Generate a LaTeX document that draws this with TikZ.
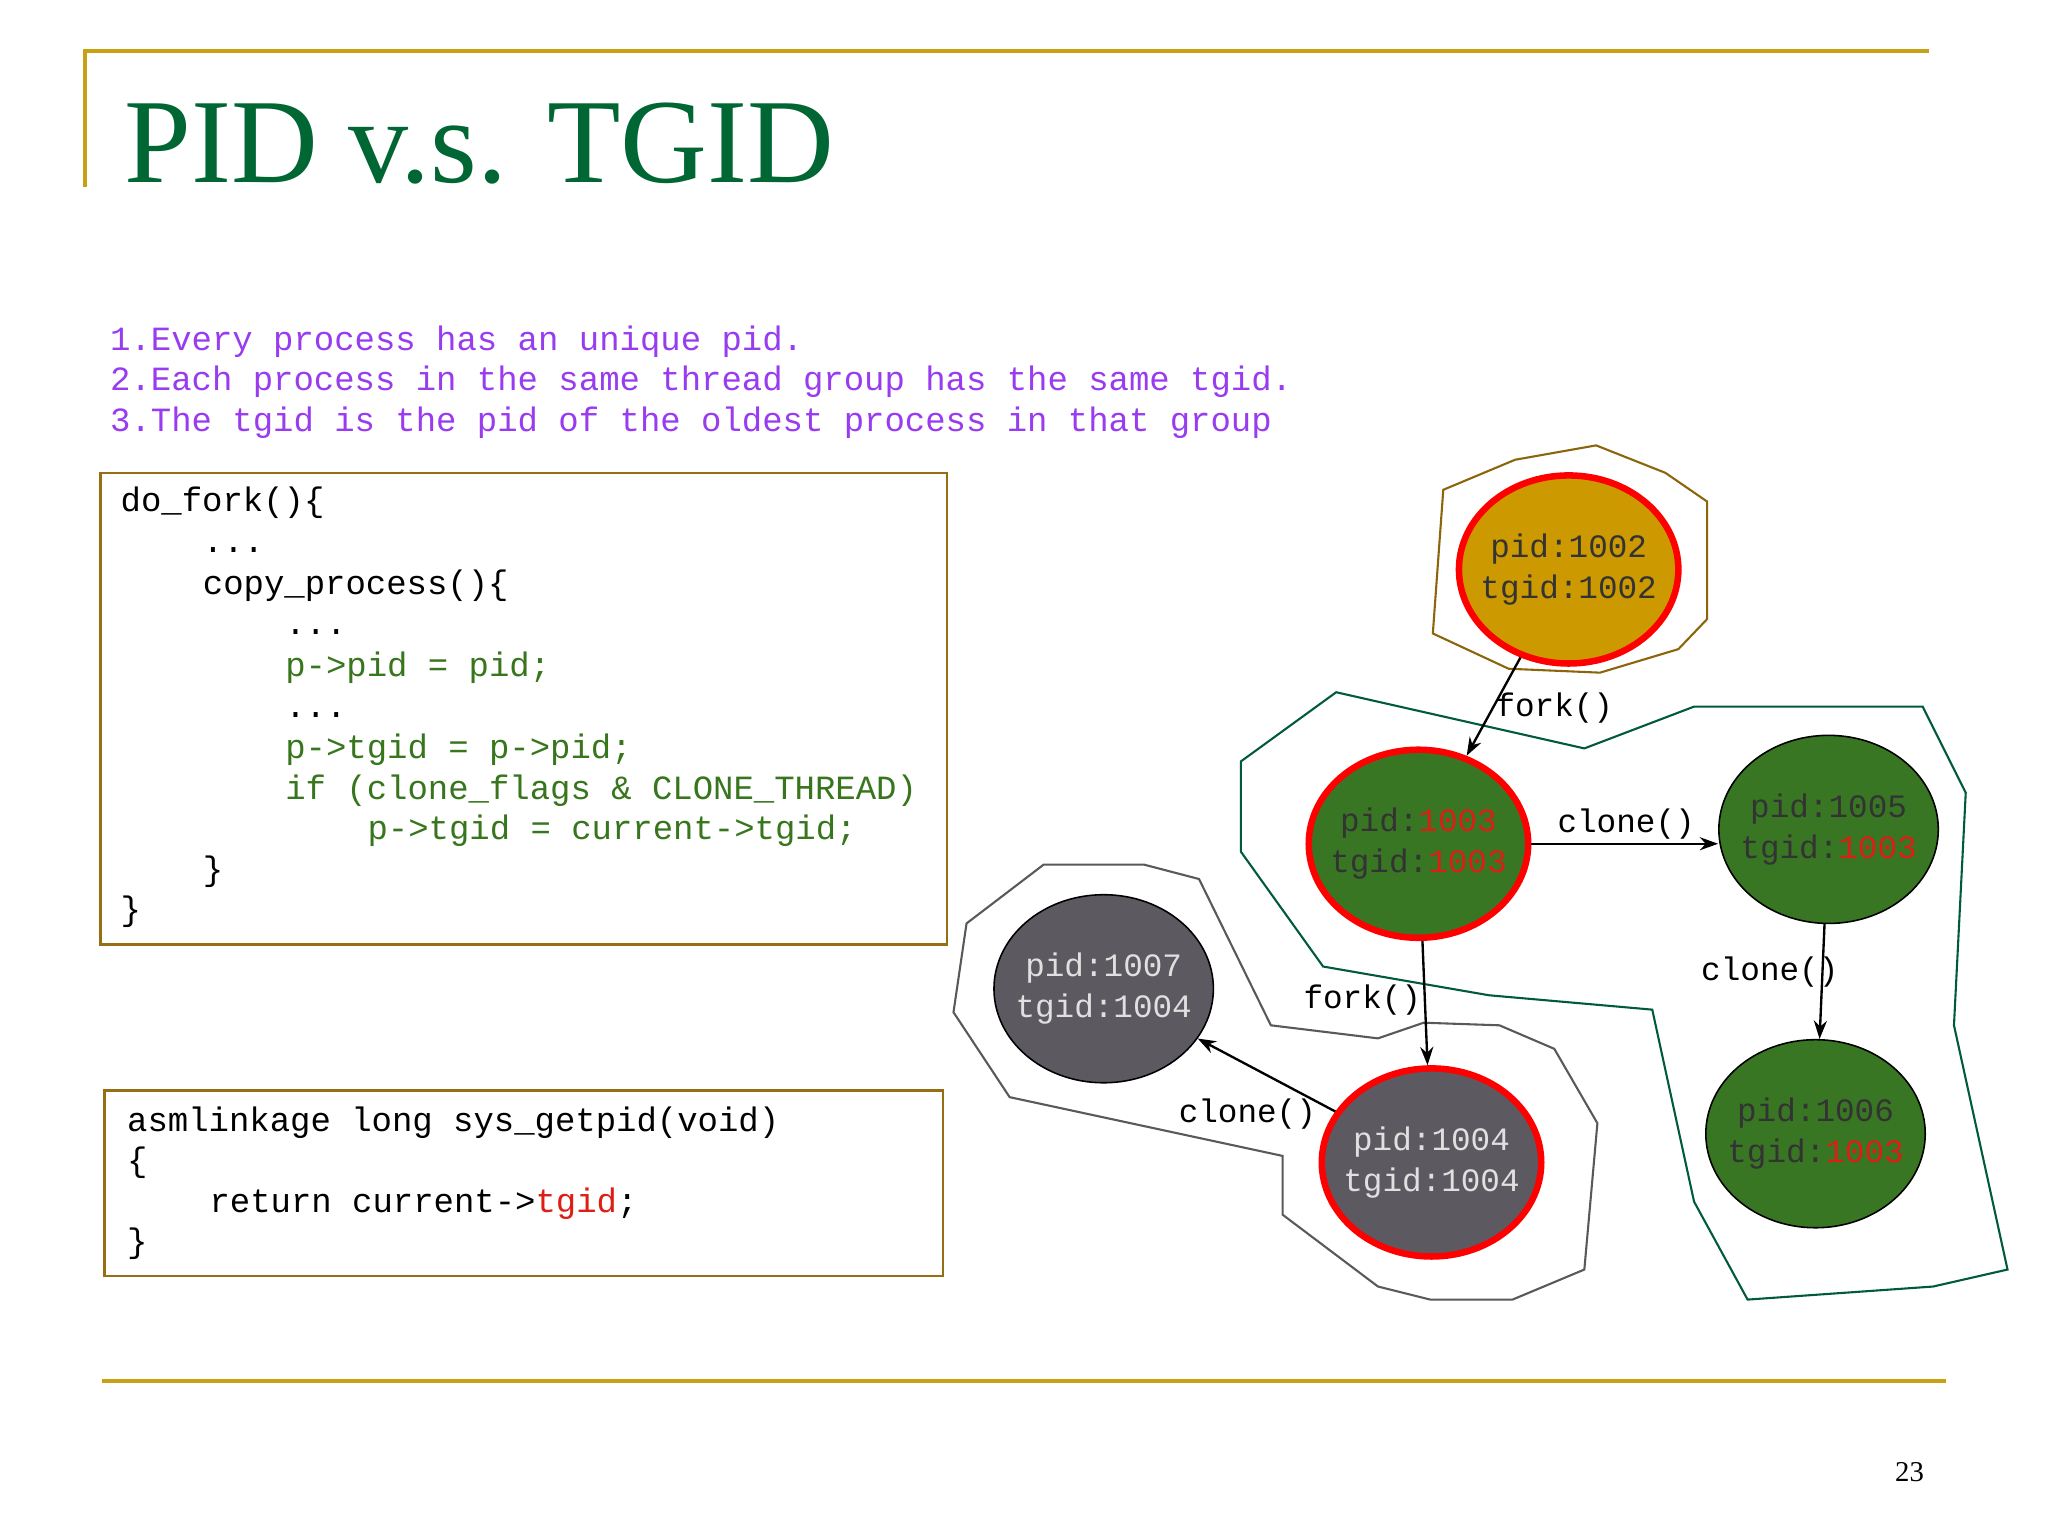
\documentclass[tikz,border=0pt]{standalone}
\usepackage{fontspec}
\setmainfont{Liberation Serif}
\setmonofont{Liberation Mono}
\usetikzlibrary{shapes.geometric,arrows.meta}
\definecolor{gold}{RGB}{200,160,20}
\definecolor{boxb}{RGB}{150,110,20}
\definecolor{titleg}{RGB}{0,102,51}
\definecolor{purp}{RGB}{153,60,240}
\definecolor{codeg}{RGB}{56,118,29}
\definecolor{orangef}{RGB}{204,153,0}
\definecolor{greenf}{RGB}{56,118,36}
\definecolor{grayf}{RGB}{92,90,96}
\definecolor{redn}{RGB}{220,30,20}
\definecolor{polyo}{RGB}{140,100,10}
\definecolor{polyg}{RGB}{0,90,60}
\begin{document}
\begin{tikzpicture}[x=0.5pt,y=-0.5pt,
  mono/.style={font=\fontsize{13}{15.5}\selectfont\ttfamily,anchor=base west,inner sep=0},
  proc/.style={ellipse,minimum width=84pt,minimum height=72pt,inner xsep=-14pt,inner ysep=0pt,align=center,
    font=\fontsize{12.5}{15.5}\selectfont\ttfamily},
  lead/.style={draw=red,line width=2.5pt},
  plain/.style={draw=black,line width=0.6pt},
  arr/.style={-{Stealth[length=7pt,width=5pt]},line width=0.9pt},
  lab/.style={font=\fontsize{12.5}{15.5}\selectfont\ttfamily,inner sep=1pt}]
\useasboundingbox (0,0) rectangle (1568,1176);
\fill[white] (0,0) rectangle (1568,1176);
\draw[gold,line width=1.5pt] (65,143) -- (65,39) -- (1477,39);
\draw[gold,line width=1.5pt] (78,1057) -- (1490,1057);
\node[anchor=base west,inner sep=0,text=titleg,font=\fontsize{46}{46}\selectfont] (title) at (95,140) {PID v.s. TGID};
\node[anchor=base,inner sep=0,font=\fontsize{11}{12}\selectfont] (pg) at (1462,1134) {23};
% rules
\node[mono,text=purp] (r1) at (84,268) {1.Every process has an unique pid.};
\node[mono,text=purp] (r2) at (84,299) {2.Each process in the same thread group has the same tgid.};
\node[mono,text=purp] (r3) at (84,330) {3.The tgid is the pid of the oldest process in that group};
% code box 1
\draw[boxb,line width=1pt] (77,362) rectangle (725,723);
\node[mono] (c1) at (92,392) {do\_fork()\{};
\node[mono] (c2) at (155,423) {...};
\node[mono] (c3) at (155,455) {copy\_process()\{};
\node[mono] (c4) at (218,486) {...};
\node[mono,text=codeg] (c5) at (218,518) {p->pid = pid;};
\node[mono] (c6) at (218,549) {...};
\node[mono,text=codeg] (c7) at (218,581) {p->tgid = p->pid;};
\node[mono,text=codeg] (c8) at (218,612) {if (clone\_flags \& CLONE\_THREAD)};
\node[mono,text=codeg] (c9) at (281,643) {p->tgid = current->tgid;};
\node[mono] (c10) at (155,674) {\}};
\node[mono] (c11) at (92,705) {\}};
% code box 2
\draw[boxb,line width=1pt] (80,835) rectangle (722,977);
\node[mono] (d1) at (97,866) {asmlinkage long sys\_getpid(void)};
\node[mono] (d2) at (97,897) {\{};
\node[mono] (d3) at (160,928) {return current->\textcolor{redn}{tgid};};
\node[mono] (d4) at (97,959) {\}};
% groups
\draw[polyo,line width=0.8pt] (1105,375)--(1160,352)--(1222,341)--(1275,362)--(1307,384)--(1307,474)--(1285,497)--(1225,515)--(1155,512)--(1097,485)--cycle;
\draw[polyg,line width=0.8pt] (950,583)--(1023,530)--(1213,573)--(1297,541)--(1472,541)--(1505,607)--(1496,785)--(1537,972)--(1480,985)--(1338,995)--(1297,920)--(1265,773)--(1140,762)--(1013,740)--(950,652)--cycle;
\draw[black!65,line width=0.8pt] (740,707)--(799,662)--(876,662)--(918,673)--(973,785)--(1055,795)--(1090,783)--(1148,785)--(1190,803)--(1223,860)--(1213,972)--(1158,995)--(1095,995)--(1055,985)--(982,930)--(982,885)--(773,840)--(730,775)--cycle;
% processes
\node[proc,lead,fill=orangef,text=black!80] (p1002) at (1201,436) {pid:1002\\tgid:1002};
\node[proc,lead,fill=greenf,text=black!80] (p1003) at (1086,646) {pid:\textcolor{redn}{1003}\\tgid:\textcolor{redn}{1003}};
\node[proc,plain,fill=greenf,text=black!80] (p1005) at (1400,635) {pid:1005\\tgid:\textcolor{redn}{1003}};
\node[proc,plain,fill=greenf,text=black!80] (p1006) at (1390,868) {pid:1006\\tgid:\textcolor{redn}{1003}};
\node[proc,lead,fill=grayf,text=black!12] (p1004) at (1096,890) {pid:1004\\tgid:1004};
\node[proc,plain,fill=grayf,text=black!12] (p1007) at (845,757) {pid:1007\\tgid:1004};
% edges
\draw[arr] (p1002) -- (p1003);
\draw[arr] (p1003.east) -- (p1005.west |- p1003.east);
\draw[arr] (p1005) -- (p1006);
\draw[arr] (p1003) -- (p1004);
\draw[arr] (p1004) -- (p1007);
\node[lab] (l1) at (1190,542) {fork()};
\node[lab] (l2) at (1245,631) {clone()};
\node[lab] (l3) at (1355,744) {clone()};
\node[lab] (l4) at (1043,766) {fork()};
\node[lab] (l5) at (955,853) {clone()};
\end{tikzpicture}
\end{document}
